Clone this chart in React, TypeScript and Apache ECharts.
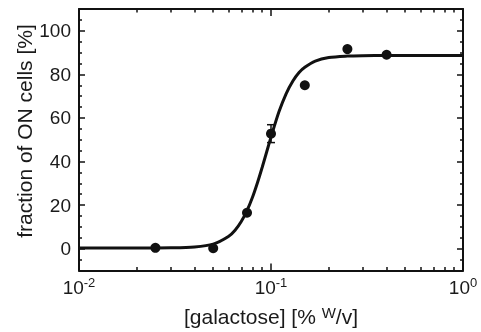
import React, { useEffect, useRef } from "react";
import * as echarts from "echarts";

// measured points
const pointX = [0.025, 0.05, 0.075, 0.1, 0.15, 0.25, 0.4];
const pointY = [0.4, 0.2, 16.5, 52.8, 75.0, 91.6, 89.0];
// error bars [x, low, high]
const errX = [0.1];
const errLow = [48.7];
const errHigh = [56.9];
// fitted curve
const curveX = [0.01, 0.02, 0.03, 0.04, 0.05, 0.06, 0.065, 0.07, 0.075, 0.08, 0.085, 0.09, 0.095, 0.1, 0.11, 0.12, 0.13, 0.14, 0.15, 0.17, 0.2, 0.25, 0.3, 0.4, 0.6, 1];
const curveY = [0.3, 0.3, 0.4, 0.8, 2.1, 5.6, 8.5, 12.5, 17.5, 23.5, 30.3, 37.4, 44.5, 51.2, 62.8, 71.2, 77.0, 80.9, 83.3, 86.1, 87.7, 88.4, 88.6, 88.7, 88.7, 88.7];
// ticks
const xMajor = [0.01, 0.1, 1];
const xMinor = [0.02, 0.03, 0.04, 0.05, 0.06, 0.07, 0.08, 0.09, 0.2, 0.3, 0.4, 0.5, 0.6, 0.7, 0.8, 0.9];
const yMajor = [0, 20, 40, 60, 80, 100];
const yMinor = [-5, 5, 10, 15, 25, 30, 35, 45, 50, 55, 65, 70, 75, 85, 90, 95, 105];

const FONT = "Liberation Sans, Arial, sans-serif";
const INK = "#111";
const TXT = "#1a1a1a";

export default function App() {
  const ref = useRef<HTMLDivElement>(null);
  useEffect(() => {
    if (!ref.current) return;
    const chart = echarts.init(ref.current, null, { renderer: "svg" });
    const lineStyle = { color: INK, width: 2 };
    const tickStyle = { color: INK, width: 1.5 };
    const xBase = { type: "log" as const, logBase: 10, min: 0.01, max: 1, splitLine: { show: false }, gridIndex: 0 };
    const yBase = { type: "value" as const, min: -10, max: 110, splitLine: { show: false }, gridIndex: 0 };
    chart.setOption({
      animation: false,
      grid: { left: 79, right: 18, top: 9, bottom: 55, containLabel: false },
      xAxis: [
        {
          ...xBase,
          position: "bottom",
          axisLine: { show: true, onZero: false, lineStyle },
          axisTick: { show: true, inside: true, length: 7, customValues: xMajor, lineStyle: tickStyle },
          axisLabel: {
            show: true,
            customValues: xMajor,
            margin: 5,
            formatter: (v: number) => `{b|10}{s|${Math.round(Math.log10(v))}}`,
            rich: {
              b: { fontFamily: FONT, fontSize: 19, color: TXT },
              s: { fontFamily: FONT, fontSize: 13, color: TXT, padding: [0, 0, 10, 0] },
            },
          },
          name: "{t|[galactose] [% }{s|W}{t|/v]}",
          nameLocation: "middle",
          nameGap: 34,
          nameTextStyle: {
            rich: {
              t: { fontFamily: FONT, fontSize: 21, color: TXT },
              s: { fontFamily: FONT, fontSize: 15, color: TXT, padding: [0, 0, 9, 0] },
            },
          },
        },
        {
          ...xBase,
          position: "bottom",
          axisLine: { show: false, onZero: false },
          axisTick: { show: true, inside: true, length: 3.5, customValues: xMinor, lineStyle: tickStyle },
          axisLabel: { show: false },
        },
        {
          ...xBase,
          position: "top",
          axisLine: { show: true, onZero: false, lineStyle },
          axisTick: { show: true, inside: true, length: 7, customValues: xMajor, lineStyle: tickStyle },
          axisLabel: { show: false },
        },
        {
          ...xBase,
          position: "top",
          axisLine: { show: false, onZero: false },
          axisTick: { show: true, inside: true, length: 3.5, customValues: xMinor, lineStyle: tickStyle },
          axisLabel: { show: false },
        },
      ],
      yAxis: [
        {
          ...yBase,
          position: "left",
          axisLine: { show: true, onZero: false, lineStyle },
          axisTick: { show: true, inside: true, length: 6, customValues: yMajor, lineStyle: tickStyle },
          axisLabel: { show: true, customValues: yMajor, margin: 8, fontFamily: FONT, fontSize: 19, color: TXT },
        },
        {
          ...yBase,
          position: "left",
          axisLine: { show: false, onZero: false },
          axisTick: { show: true, inside: true, length: 3, customValues: yMinor, lineStyle: tickStyle },
          axisLabel: { show: false },
        },
        {
          ...yBase,
          position: "right",
          axisLine: { show: true, onZero: false, lineStyle },
          axisTick: { show: true, inside: true, length: 6, customValues: yMajor, lineStyle: tickStyle },
          axisLabel: { show: false },
        },
        {
          ...yBase,
          position: "right",
          axisLine: { show: false, onZero: false },
          axisTick: { show: true, inside: true, length: 3, customValues: yMinor, lineStyle: tickStyle },
          axisLabel: { show: false },
        },
      ],
      graphic: [
        {
          type: "text",
          x: 24,
          y: 131,
          rotation: Math.PI / 2,
          style: {
            text: "fraction of ON cells [%]",
            fontFamily: FONT,
            fontSize: 21,
            fill: TXT,
            align: "center",
            verticalAlign: "middle",
          },
        },
      ],
      series: [
        {
          type: "line",
          xAxisIndex: 0,
          yAxisIndex: 0,
          data: curveX.map((x, i) => [x, curveY[i]]),
          showSymbol: false,
          smooth: 0.3,
          lineStyle: { color: INK, width: 3 },
          z: 2,
        },
        {
          type: "custom",
          xAxisIndex: 0,
          yAxisIndex: 0,
          data: errX.map((x, i) => [x, errLow[i], errHigh[i]]),
          renderItem: (_params: any, api: any) => {
            const x = api.value(0);
            const top = api.coord([x, api.value(2)]);
            const bot = api.coord([x, api.value(1)]);
            const hw = 4;
            const style = { stroke: INK, lineWidth: 1.5 };
            return {
              type: "group",
              children: [
                { type: "line", shape: { x1: top[0], y1: top[1], x2: bot[0], y2: bot[1] }, style },
                { type: "line", shape: { x1: top[0] - hw, y1: top[1], x2: top[0] + hw, y2: top[1] }, style },
                { type: "line", shape: { x1: bot[0] - hw, y1: bot[1], x2: bot[0] + hw, y2: bot[1] }, style },
              ],
            };
          },
          z: 3,
        },
        {
          type: "scatter",
          xAxisIndex: 0,
          yAxisIndex: 0,
          data: pointX.map((x, i) => [x, pointY[i]]),
          symbol: "circle",
          symbolSize: 10,
          itemStyle: { color: INK, opacity: 1 },
          z: 4,
        },
      ],
    });
    return () => chart.dispose();
  }, []);
  return <div ref={ref} style={{ position: "fixed", left: 0, top: 0, width: 481, height: 332 }} />;
}
